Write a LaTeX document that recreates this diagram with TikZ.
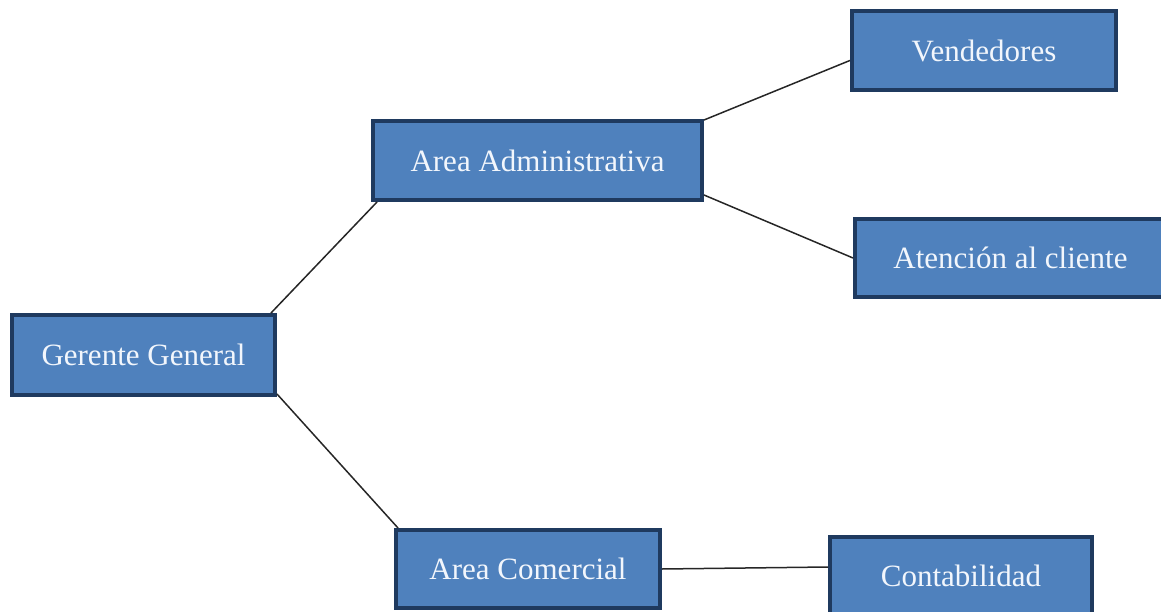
\documentclass[tikz,border=0pt]{standalone}
\usepackage{fontspec}
\setmainfont{Liberation Serif}
\usetikzlibrary{calc}
\definecolor{boxfill}{HTML}{4F81BD}
\definecolor{boxline}{HTML}{1F3A5F}
\definecolor{boxtext}{HTML}{F2F6FC}
\tikzset{
  orgbox/.style={draw=boxline, fill=boxfill, line width=4pt, text=boxtext,
    font=\fontsize{31}{36}\selectfont, inner sep=0pt, anchor=center},
  link/.style={draw=black!85, line width=1.5pt}
}
\begin{document}
\begin{tikzpicture}[x=1pt,y=-1pt]
\useasboundingbox (0,0) rectangle (1161,612);
\clip (0,0) rectangle (1161,612);
\node[orgbox, minimum width=263pt, minimum height=80pt] (g) at (143.5,355) {Gerente General};
\node[orgbox, minimum width=329pt, minimum height=79pt] (a) at (537.5,160.5) {Area Administrativa};
\node[orgbox, minimum width=264pt, minimum height=79pt] (v) at (984,50.5) {Vendedores};
\node[orgbox, minimum width=311pt, minimum height=78pt] (t) at (1010.5,258) {Atención al cliente};
\node[orgbox, minimum width=264pt, minimum height=78pt] (c) at (528,569) {Area Comercial};
\node[orgbox, minimum width=262pt, minimum height=78pt] (k) at (961,576) {Contabilidad};
\draw[link] ($(g.north east)+(-6,0)$) -- ($(a.south west)+(6,0)$);
\draw[link] ($(g.south east)+(0,-3)$) -- ($(c.north west)+(4,0)$);
\draw[link] ($(a.north east)+(0,1)$) -- ($(v.north west)!0.62!(v.south west)$);
\draw[link] ($(a.south east)+(0,-7)$) -- (t.west);
\draw[link] (c.east) -- ($(c.east -| k.west)+(0,-2)$);
\end{tikzpicture}
\end{document}
